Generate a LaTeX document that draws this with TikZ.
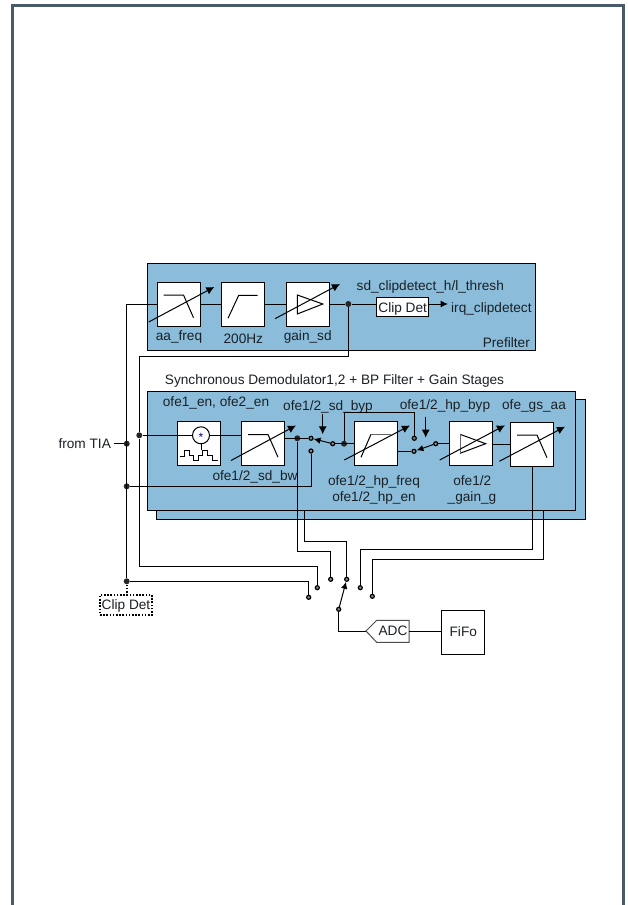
\documentclass[tikz,border=0pt]{standalone}
\usepackage{fontspec}
\setmainfont{Liberation Sans}
\usetikzlibrary{arrows.meta}
\definecolor{blockblue}{HTML}{8BBDDA}
\definecolor{pageedge}{HTML}{4A5A68}
\definecolor{textgrey}{HTML}{1A2026}
\begin{document}
\begin{tikzpicture}[x=1pt,y=-1pt]
\tikzstyle{panel}=[draw=black,fill=blockblue,line width=1pt]
\tikzstyle{block}=[draw=black,fill=white,line width=1pt,minimum width=43pt,minimum height=44pt,inner sep=0pt]
\tikzstyle{label}=[anchor=base,inner sep=0pt,text=textgrey,font=\fontsize{13.65}{15}\selectfont]
\tikzstyle{wire}=[draw,line width=1pt]
\tikzstyle{icon}=[draw,line width=1pt]
\tikzstyle{tune}=[draw,line width=1pt,-{Latex[length=8pt,width=8pt]}]
\tikzstyle{lever}=[draw,line width=1pt,-{Latex[length=7pt,width=6.5pt]}]
\tikzstyle{junction}=[circle,fill=black!85,minimum size=6pt,inner sep=0pt]
\tikzstyle{contact}=[circle,draw=black,fill=black!45,line width=1.2pt,minimum size=4pt,inner sep=0pt]
\tikzstyle{dots}=[draw,line width=1.6pt,dash pattern=on 1.6pt off 1.6pt]
\useasboundingbox (0,0) rectangle (627,905);
\draw[pageedge,line width=3pt] (12.5,905) -- (12.5,5.5) -- (623.5,5.5) -- (623.5,905);
    % prefilter
    \draw[panel] (147.3,263.3) rectangle (535.3,350.3);
    \node[block] (aa) at (178.5,304) {};
    \node[block] (hz) at (242.8,304) {};
    \node[block] (gain) at (307.8,304) {};
    \node[junction] (tap) at (348.3,304) {};
    \node[block,minimum width=52pt,minimum height=19pt] (clip) at (402.7,307) {};
    \node[label] (cliptxt) at (402.7,312) {Clip Det};
    \node[label] (aatxt) at (179,340.7) {aa\_freq};
    \node[label] (hztxt) at (243.3,343) {200Hz};
    \node[label] (gaintxt) at (307.7,340.7) {gain\_sd};
    \node[label] (thresh) at (430.3,290.3) {sd\_clipdetect\_h/l\_thresh};
    \node[label,anchor=base west] (irq) at (451,312.3) {irq\_clipdetect};
    \node[label,anchor=base east] (prefilter) at (530,347) {Prefilter};
    % demodulator, second channel behind
    \node[label] (sync) at (334.5,384.3) {Synchronous Demodulator1,2 + BP Filter + Gain Stages};
    \draw[panel] (156.7,399) rectangle (585,519.3);
    \coordinate (backA) at (304.3,450);
    \coordinate (backB) at (543.3,450);
    \coordinate (cornA) at (346.7,541.3);
    \coordinate (cornB) at (372.3,559.3);
    \node[contact] (inD) at (346.7,579.3) {};
    \node[contact] (inF) at (372.3,596.3) {};
    \draw[wire] (backA) |- (cornA) -- (inD);
    \draw[wire] (backB) |- (cornB) -- (inF);
    \draw[panel] (147.3,391.3) rectangle (575.7,510.3);
    \node[block] (mix) at (199,443.5) {};
    \node[block] (sdbw) at (263,443.5) {};
    \node[block] (hp) at (376,443.5) {};
    \node[block] (gaing) at (471,443.5) {};
    \node[block] (gs) at (532,444) {};
    \node[circle,draw,fill=white,line width=1pt,minimum size=17pt,inner sep=0pt] (osc) at (201,435.3) {};
    \node[inner sep=0pt,text=blue!60!black,font=\fontsize{12}{12}\selectfont] (star) at (201,437) {*};
    \coordinate (wave) at (201,449.5);
    \node[label] (entxt) at (216,406) {ofe1\_en, ofe2\_en};
    \node[label] (sdbyp) at (328,410) {ofe1/2\_sd\_byp};
    \node[label] (hpbyp) at (445,409) {ofe1/2\_hp\_byp};
    \node[label] (gsaa) at (534,409) {ofe\_gs\_aa};
    \node[label] (bwtxt) at (255,480) {ofe1/2\_sd\_bw};
    \node[label] (hpfreq) at (374,485.7) {ofe1/2\_hp\_freq};
    \node[label] (hpen) at (374,501.3) {ofe1/2\_hp\_en};
    \node[label] (gtxt) at (472.3,485.7) {ofe1/2};
    \node[label] (gtxtb) at (472,501.3) {\_gain\_g};
    \node[label] (tia) at (84.7,448.7) {from TIA};
    % junctions and contacts
    \node[junction] (in) at (126.7,443.7) {};
    \node[junction] (inb) at (126.7,486.3) {};
    \node[junction] (inc) at (139.3,435.3) {};
    \node[junction] (outa) at (297.3,438.3) {};
    \node[junction] (bypa) at (344,443.7) {};
    \node[junction] (clipj) at (126.7,581.3) {};
    \node[contact] (swa) at (311,438.3) {};
    \node[contact] (swb) at (311,451) {};
    \node[contact] (pola) at (332.7,443.7) {};
    \node[contact] (swc) at (414.3,438.3) {};
    \node[contact] (swd) at (414,451.3) {};
    \node[contact] (polb) at (435.7,443.7) {};
    \node[contact] (inA) at (308.7,597.3) {};
    \node[contact] (inB) at (317.3,587.7) {};
    \node[contact] (inC) at (330.7,579.3) {};
    \node[contact] (inE) at (360.3,587.7) {};
    \node[contact] (polc) at (338.7,609.3) {};
    % adc and fifo
    \coordinate (adctip) at (366,631);
    \coordinate (adcout) at (409,631);
    \draw[draw=black!70,fill=white,line width=1pt] (adctip) -- (376.7,620.3) -- (409,620.3) -- (409,642.3) -- (376.7,642.3) -- cycle;
    \node[label] (adc) at (393,635.5) {ADC};
    \node[block,minimum height=44.5pt] (fifo) at (462.8,632.5) {};
    \node[label] (fifotxt) at (463.3,636.7) {FiFo};
    \node[dots,minimum width=52pt,minimum height=20pt,inner sep=0pt] (clipout) at (126,605) {};
    \node[label] (clipouttxt) at (126,609.7) {Clip Det};
    % signal path
    \coordinate (pfin) at (126.7,304);
    \coordinate (belowpf) at (139.3,356);
    \coordinate (cornC) at (317.3,566.3);
    \coordinate (cornD) at (330.7,551.7);
    \coordinate (cornE) at (360.3,549.3);
    \coordinate (topby) at (414.3,412.7);
    \coordinate (bypin) at (322.7,414);
    \coordinate (bypout) at (322.7,434.3);
    \coordinate (hpin) at (425.7,416.7);
    \coordinate (hpout) at (425.7,437.7);
    \coordinate (polcdn) at (338.7,631);
    \path (pfin) edge [wire] (aa.west);
    \path (aa) edge [wire] (hz);
    \path (hz) edge [wire] (gain);
    \path (gain) edge [wire] (tap);
    \path (tap) edge [wire] (tap -| clip.west);
    \draw[wire,-{Latex[length=7.5pt,width=7pt]},shorten >=3pt] (clip.east |- tap) -- (irq.west |- tap);
    \draw[wire] (pfin) -- (clipj);
    \draw[wire] (tap) |- (belowpf) -- (inc);
    \draw[wire] (inc) -- (osc);
    \draw[wire] (osc) -- (sdbw.west |- osc);
    \draw[wire] (inc) |- (cornC) -- (inB);
    \draw[wire] (osc) -- (wave);
    \draw[icon] (179.5,456) -- ++(4.5,0) -- ++(0,-5.5) -- ++(5,0) -- ++(0,5) -- ++(4.5,0) -- ++(0,5) -- ++(4.5,0) -- ++(0,-5) -- ++(4.5,0) -- ++(0,-5) -- ++(5,0) -- ++(0,5) -- ++(5,0) -- ++(0,5) -- ++(5,0);
    \draw[wire,shorten <=3pt] (tia.east |- in) -- (in);
    \draw[wire] (inb) -| (swb);
    \draw[wire] (sdbw.east |- swa) -- (swa);
    \draw[wire] (outa) |- (cornD) -- (inC);
    \draw[wire] (clipj) -| (inA);
    \draw[dots] (clipj) -- (clipout.north -| clipj);
    \draw[wire] (pola) -- (hp.west |- pola);
    \draw[wire] (bypa) |- (topby) -- (swc);
    \draw[wire] (hp.east |- swd) -- (swd);
    \draw[wire] (polb) -- (gaing.west |- polb);
    \draw[wire] (gaing.east |- gs) -- (gs.west);
    \draw[wire] (gs.south) |- (cornE) -- (inE);
    \draw[wire] (polc) -- (polcdn) -- (adctip);
    \draw[wire] (adcout) -- (fifo.west |- adcout);
    % switch levers
    \path (pola) edge [lever] (swa);
    \path (polb) edge [lever] (swd);
    \path (polc) edge [lever] (inD);
    \path (bypin) edge [tune] (bypout);
    \path (hpin) edge [tune] (hpout);
    % filter and gain icons
    \foreach \n in {aa,sdbw,gs}
        \draw[icon] ([shift={(-15,-9)}]\n.center) -- ++(20,0) -- ++(10,22.7);
    \draw[icon] ([shift={(-14.8,14.3)}]hz.center) -- ++(10.7,-23) -- ++(19,0);
    \draw[icon] ([shift={(-15,13.8)}]hp.center) -- ++(10,-23);
    \draw[icon,black!60] ([shift={(-5,-9.2)}]hp.center) -- ++(20,0);
    \draw[icon] ([shift={(-10.5,-9)}]gain.center) -- ++(25.5,9) -- ++(-25.5,10) -- cycle;
    \draw[icon] ([shift={(-11,-9.2)}]gaing.center) -- ++(25.7,9.4) -- ++(-25.7,9.6);
    \draw[icon,black!60] ([shift={(-11,-9.2)}]gaing.center) -- ++(0,19);
    \foreach \n/\ax/\ay/\bx/\by in {aa/-29.8/18/35.8/-17,gain/-32.8/14.7/32.2/-20,sdbw/-32/17/33/-18,hp/-31.7/16.5/34/-18,gaing/-31.3/16.5/34/-18.2,gs/-32.7/17.3/33/-17.3}
        \path ([shift={(\ax,\ay)}]\n.center) edge [tune] ([shift={(\bx,\by)}]\n.center);
\end{tikzpicture}
\end{document}
